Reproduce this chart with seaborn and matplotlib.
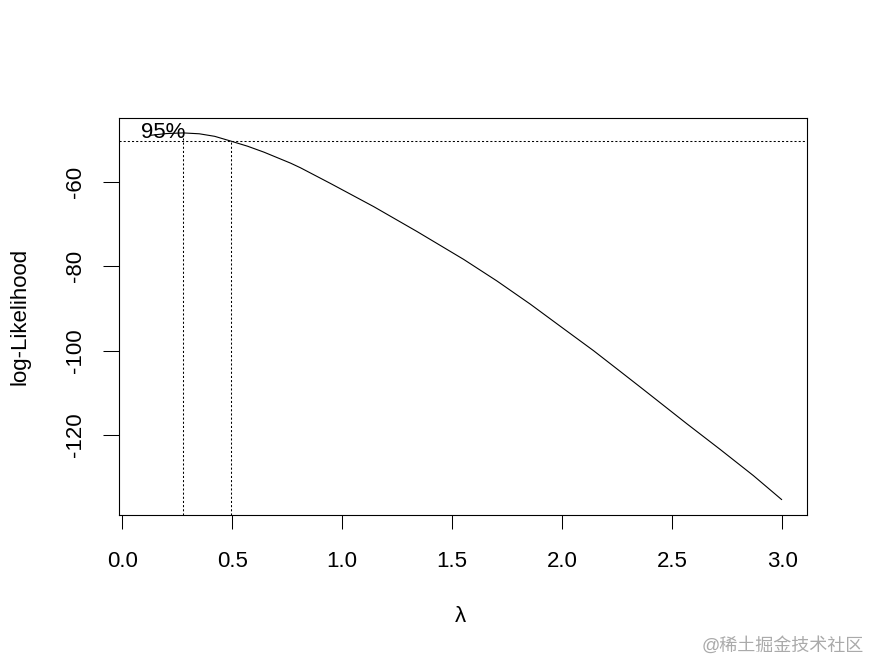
import numpy as np
import pandas as pd
import matplotlib
matplotlib.use("Agg")
import matplotlib.pyplot as plt
import seaborn as sns

# values (Box-Cox profile log-likelihood)
lam = [0.13, 0.20, 0.276, 0.35, 0.42, 0.492, 0.57, 0.644, 0.765, 0.81,
       0.946, 1.143, 1.340, 1.552, 1.703, 1.855, 2.006, 2.142, 2.263,
       2.354, 2.415, 2.566, 2.718, 2.869, 2.998]
loglik = [-49.0, -48.6, -48.44, -48.65, -49.25, -50.36, -51.6, -53.0, -55.6, -56.7,
          -60.4, -65.9, -71.8, -78.4, -83.5, -89.0, -94.8, -100.0, -104.9,
          -108.6, -111.1, -117.3, -123.4, -129.6, -135.3]
lam_max = 0.276
loglik_max = -48.44
lam_upper = 0.492
ci_level = -50.36
x_ticks = [0.0, 0.5, 1.0, 1.5, 2.0, 2.5, 3.0]
y_ticks = [-60, -80, -100, -120]

sns.set_style("white")
plt.rcParams['font.family'] = ['Liberation Sans', 'Noto Sans CJK SC', 'DejaVu Sans']

df = pd.DataFrame({'lambda': lam, 'loglik': loglik})

fig = plt.figure(figsize=(8.69, 6.62), dpi=100)
ax = fig.add_axes([119 / 869, 1 - 515 / 662, (807 - 119) / 869, (515 - 118) / 662])

sns.lineplot(data=df, x='lambda', y='loglik', ax=ax, color='black', linewidth=0.8,
             sort=False, estimator=None)

ax.set_xlim(-0.015, 3.113)
ax.set_ylim(-138.94, -44.91)
ybot = ax.get_ylim()[0]

dots = (0, (2, 2))
ax.axhline(ci_level, color='black', linewidth=0.75, linestyle=dots)
ax.plot([lam_max, lam_max], [ybot, loglik_max], color='black', linewidth=0.75, linestyle=dots)
ax.plot([lam_upper, lam_upper], [ybot, ci_level], color='black', linewidth=0.75, linestyle=dots)
ax.text(0.084, -49.65, "95%", fontsize=16, color='black', va='baseline', ha='left')

ax.set_xticks(x_ticks)
ax.set_xticklabels([f"{v:.1f}" for v in x_ticks])
ax.set_yticks(y_ticks)
ax.set_yticklabels([str(v) for v in y_ticks])

ax.tick_params(axis='x', direction='out', length=10, width=0.75, pad=16,
               labelsize=16, colors='black', bottom=True)
ax.tick_params(axis='y', direction='out', length=11.5, width=0.75, pad=12,
               labelsize=16, colors='black', left=True, labelrotation=90)
for lbl in ax.get_yticklabels():
    lbl.set_va('center')

for s in ax.spines.values():
    s.set_visible(True)
    s.set_color('black')
    s.set_linewidth(0.8)

ax.set_xlabel("λ", fontsize=16, color='black')
ax.set_ylabel("log-Likelihood", fontsize=16, color='black')
ax.xaxis.set_label_coords((460 - 119) / (807 - 119), -(617 - 515) / (515 - 118))
ax.yaxis.set_label_coords(-(119 - 20) / (807 - 119), 0.5)
ax.xaxis.label.set_va('center')
ax.yaxis.label.set_va('center')

fig.text(783 / 869, 1 - 646 / 662, "@稀土掘金技术社区", fontsize=13, color='#aaaaaa',
         ha='center', va='center')

fig.savefig("out.png", dpi=100, facecolor='white')
